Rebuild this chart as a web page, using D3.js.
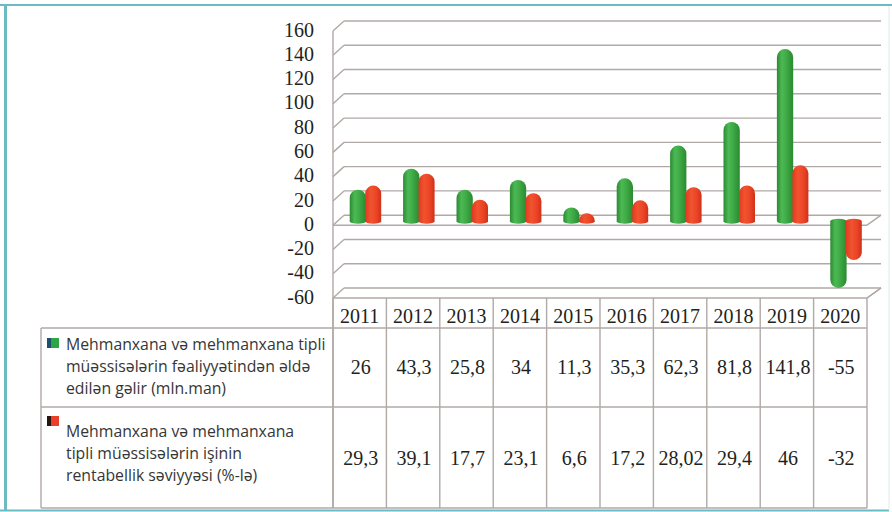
<!DOCTYPE html>
<html>
<head>
<meta charset="utf-8">
<script src="https://cdn.jsdelivr.net/npm/d3@7"></script>
<style>
  body { margin: 0; background: #fff; }
  svg { display: block; }
</style>
</head>
<body>
<svg id="chart" width="892" height="512"></svg>
<script>
var years = ['2011', '2012', '2013', '2014', '2015', '2016', '2017', '2018', '2019', '2020'];
var income = [26, 43.3, 25.8, 34, 11.3, 35.3, 62.3, 81.8, 141.8, -55];
var profit = [29.3, 39.1, 17.7, 23.1, 6.6, 17.2, 28.02, 29.4, 46, -32];
var yTicks = [160, 140, 120, 100, 80, 60, 40, 20, 0, -20, -40, -60];
var incomeLabel = ['Mehmanxana və mehmanxana tipli', 'müəssisələrin fəaliyyətindən əldə', 'edilən gəlir (mln.man)'];
var profitLabel = ['Mehmanxana və mehmanxana', 'tipli müəssisələrin işinin', 'rentabellik səviyyəsi (%-lə)'];

var svg = d3.select('#chart');
var gridColor = '#b0a9a6';
var teal = '#6dbac2';
var serif = '"Liberation Serif", "DejaVu Serif", serif';

// 3d depth offset of the back wall
var dx = 11, dy = 10;

var x = d3.scaleBand()
  .domain(years)
  .range([333, 867]);

var y = d3.scaleLinear()
  .domain([-60, 160])
  .range([298, 31]);

var defs = svg.append('defs');

function cylGradient(id, stops) {
  var g = defs.append('linearGradient')
    .attr('id', id)
    .attr('x1', '0%').attr('y1', '0%')
    .attr('x2', '100%').attr('y2', '0%');
  stops.forEach(function(s) {
    g.append('stop').attr('offset', s[0]).attr('stop-color', s[1]);
  });
}
cylGradient('gGreen', [['0%', '#2b8a31'], ['30%', '#4cb955'], ['55%', '#41ad48'], ['100%', '#2a8a30']]);
cylGradient('gRed', [['0%', '#e03a21'], ['35%', '#f2532f'], ['70%', '#ea4427'], ['100%', '#cf3119']]);

defs.append('clipPath').attr('id', 'labelClip')
  .append('rect').attr('x', 41).attr('y', 328).attr('width', 286).attr('height', 180);

// frame
svg.append('line').attr('x1', 0).attr('x2', 892).attr('y1', 5).attr('y2', 5)
  .attr('stroke', teal).attr('stroke-width', 2);
svg.append('line').attr('x1', 5.5).attr('x2', 5.5).attr('y1', 5).attr('y2', 511)
  .attr('stroke', teal).attr('stroke-width', 3);
svg.append('line').attr('x1', 0).attr('x2', 889).attr('y1', 510.5).attr('y2', 510.5)
  .attr('stroke', teal).attr('stroke-width', 2);
svg.append('line').attr('x1', 889).attr('x2', 889).attr('y1', 6).attr('y2', 510)
  .attr('stroke', '#dfe9ea').attr('stroke-width', 1);

var x0 = x.range()[0], x1 = x.range()[1];

// back wall gridlines + side diagonals
var grid = svg.append('g').attr('stroke', gridColor).attr('stroke-width', 1.4).attr('fill', 'none');
yTicks.forEach(function(t) {
  grid.append('line')
    .attr('x1', x0 + dx).attr('x2', x1 + 14)
    .attr('y1', y(t) - dy).attr('y2', y(t) - dy);
  grid.append('line')
    .attr('x1', x0).attr('x2', x0 + dx)
    .attr('y1', y(t)).attr('y2', y(t) - dy);
});
grid.append('line').attr('x1', x0).attr('x2', x0).attr('y1', y(160)).attr('y2', 508);
// floor at zero and at the bottom
[0, -60].forEach(function(t) {
  grid.append('line')
    .attr('x1', x0).attr('x2', x1)
    .attr('y1', y(t)).attr('y2', y(t));
  grid.append('line')
    .attr('x1', x1).attr('x2', x1 + 14)
    .attr('y1', y(t)).attr('y2', y(t) - dy);
});

// y axis labels
svg.append('g').selectAll('text')
  .data(yTicks)
  .enter()
  .append('text')
  .attr('x', 314)
  .attr('y', function(d) { return y(d) + 1; })
  .attr('text-anchor', 'end')
  .attr('dominant-baseline', 'middle')
  .attr('font-family', serif)
  .attr('font-size', 20)
  .attr('fill', '#231f20')
  .text(function(d) { return d; });

// cylinder bars
var inner = d3.scaleBand()
  .domain(['income', 'profit'])
  .range([0, 31]);
var bw = inner.bandwidth();
var groupShift = (x.bandwidth() - 31) / 2 + dx / 2;
var baseY = y(0) - dy / 2 + 1;

function cylPath(bx, w, v) {
  var h = Math.abs(y(v) - y(0));
  var r = Math.min(w / 2, h);
  var e = 2.5;
  var end = baseY - (y(0) - y(v));
  if (v >= 0) {
    return 'M' + bx + ',' + baseY +
      'L' + bx + ',' + (end + r) +
      'A' + (w / 2) + ',' + r + ' 0 0 1 ' + (bx + w) + ',' + (end + r) +
      'L' + (bx + w) + ',' + baseY +
      'A' + (w / 2) + ',' + e + ' 0 0 1 ' + bx + ',' + baseY + 'Z';
  }
  return 'M' + bx + ',' + baseY +
    'L' + bx + ',' + (end - r) +
    'A' + (w / 2) + ',' + r + ' 0 0 0 ' + (bx + w) + ',' + (end - r) +
    'L' + (bx + w) + ',' + baseY +
    'A' + (w / 2) + ',' + e + ' 0 0 0 ' + bx + ',' + baseY + 'Z';
}

var series = [
  { key: 'income', values: income, fill: 'url(#gGreen)' },
  { key: 'profit', values: profit, fill: 'url(#gRed)' }
];

series.forEach(function(s) {
  svg.append('g').selectAll('path')
    .data(s.values)
    .enter()
    .append('path')
    .attr('d', function(d, i) {
      var bx = x(years[i]) + groupShift + inner(s.key);
      return cylPath(bx, bw + (s.key === 'profit' ? 0.5 : 0.8), d);
    })
    .attr('fill', s.fill);
});

// data table
var table = svg.append('g').attr('stroke', gridColor).attr('stroke-width', 1.4).attr('fill', 'none');
var rowTop = 328, rowMid = 407, rowBot = 508;
years.concat(['end']).forEach(function(yr, i) {
  var xx = i < years.length ? x(yr) : x1;
  table.append('line').attr('x1', xx).attr('x2', xx).attr('y1', y(-60)).attr('y2', rowBot);
});
table.append('line').attr('x1', x1).attr('x2', x1 + 14).attr('y1', y(-60)).attr('y2', y(-60) - dy);
[rowTop, rowMid, rowBot].forEach(function(ry) {
  table.append('line').attr('x1', 41).attr('x2', x1).attr('y1', ry).attr('y2', ry);
});
table.append('line').attr('x1', 41).attr('x2', 41).attr('y1', rowTop).attr('y2', rowBot);

svg.append('g').selectAll('text')
  .data(years)
  .enter()
  .append('text')
  .attr('x', function(d) { return x(d) + x.bandwidth() / 2; })
  .attr('y', 318)
  .attr('text-anchor', 'middle')
  .attr('dominant-baseline', 'middle')
  .attr('font-family', serif)
  .attr('font-size', 20)
  .attr('fill', '#231f20')
  .text(function(d) { return d; });

function fmt(v) { return String(v).replace('.', ','); }

[[income, 369], [profit, 460]].forEach(function(row) {
  svg.append('g').selectAll('text')
    .data(row[0])
    .enter()
    .append('text')
    .attr('x', function(d, i) { return x(years[i]) + x.bandwidth() / 2 + 1; })
    .attr('y', row[1])
    .attr('text-anchor', 'middle')
    .attr('dominant-baseline', 'middle')
    .attr('font-family', serif)
    .attr('font-size', 20)
    .attr('fill', '#231f20')
    .text(fmt);
});

// legend keys
function legendKey(ky, main, dark) {
  svg.append('rect').attr('x', 47).attr('y', ky).attr('width', 12).attr('height', 10).attr('fill', main);
  svg.append('rect').attr('x', 47).attr('y', ky).attr('width', 4).attr('height', 10).attr('fill', dark);
}
legendKey(338, '#2fa645', '#1d4f6e');
legendKey(416, '#e8402a', '#2a1410');

var labels = svg.append('g').attr('clip-path', 'url(#labelClip)');
[[incomeLabel, 346], [profitLabel, 433]].forEach(function(lab) {
  labels.selectAll(null)
    .data(lab[0])
    .enter()
    .append('text')
    .attr('x', 66)
    .attr('y', function(d, i) { return lab[1] + i * 22; })
    .attr('dominant-baseline', 'middle')
    .attr('font-family', '"Open Sans", sans-serif')
    .attr('font-size', 15.8)
    .attr('fill', '#363636')
    .text(function(d) { return d; });
});
</script>
</body>
</html>
